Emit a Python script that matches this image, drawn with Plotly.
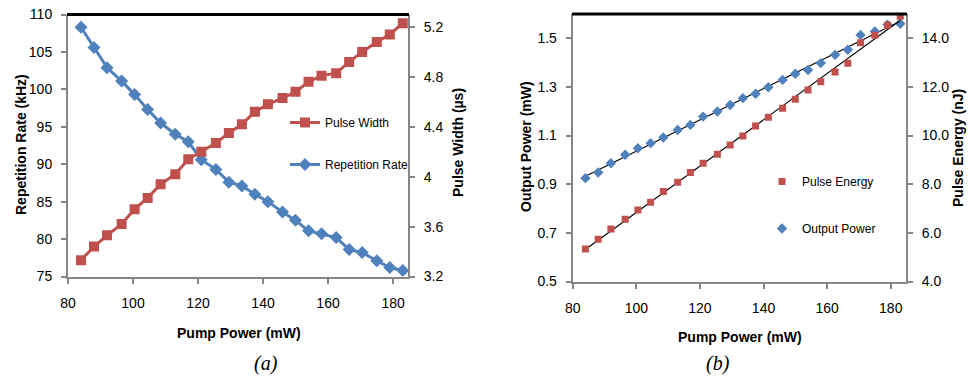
import numpy as np
import plotly.graph_objects as go

# ---------------- data ----------------
pump_power = [84, 88, 92, 96.5, 100.5, 104.5, 108.5, 113, 117, 121, 125.5, 129.5,
              133.5, 137.5, 141.5, 146, 150, 154, 158, 162.5, 166.5, 170.5, 175, 179, 183]
rep_rate = [108.3, 105.6, 102.9, 101.1, 99.3, 97.3, 95.5, 94.0, 93.0, 90.6, 89.3, 87.6,
            87.1, 86.0, 85.0, 83.6, 82.5, 81.1, 80.7, 80.2, 78.6, 78.2, 77.1, 76.2, 75.8]
pulse_width = [3.33, 3.44, 3.53, 3.62, 3.74, 3.83, 3.94, 4.02, 4.14, 4.20, 4.27, 4.35,
               4.42, 4.52, 4.58, 4.63, 4.68, 4.76, 4.81, 4.83, 4.92, 5.00, 5.08, 5.14, 5.23]
output_power = [0.925, 0.948, 0.986, 1.021, 1.048, 1.069, 1.092, 1.123, 1.144, 1.178, 1.199,
                1.226, 1.254, 1.272, 1.299, 1.329, 1.354, 1.370, 1.398, 1.432, 1.453, 1.514,
                1.528, 1.556, 1.560]
pulse_energy = [5.34, 5.74, 6.16, 6.56, 6.94, 7.26, 7.70, 8.08, 8.48, 8.86, 9.23, 9.61,
                9.98, 10.39, 10.75, 11.12, 11.49, 11.87, 12.21, 12.62, 12.97, 13.82,
                14.13, 14.54, 14.91]

x_ticks = [80, 100, 120, 140, 160, 180]
rep_ticks = [75, 80, 85, 90, 95, 100, 105, 110]
pw_ticks = [3.2, 3.6, 4.0, 4.4, 4.8, 5.2]
pw_ticktext = ["3.2", "3.6", "4", "4.4", "4.8", "5.2"]
op_ticks = [0.5, 0.7, 0.9, 1.1, 1.3, 1.5]
pe_ticks = [4.0, 6.0, 8.0, 10.0, 12.0, 14.0]

# ---------------- style ----------------
W, H = 968, 378
RED = "#C0504D"
BLUE = "#4F81BD"
AXC = "#868686"
TICKFONT = dict(family="Liberation Sans Narrow, Liberation Sans, Arial, sans-serif", size=14, color="#000000")
TITLEFONT = dict(family="Liberation Sans, Arial, sans-serif", size=14, color="#000000")


def px(x):
    return x / W


def py(y):
    return 1 - y / H


# linear trend lines for panel (b)
pp = np.array(pump_power)
op_fit = np.polyfit(pp, np.array(output_power), 1)
pe_fit = np.polyfit(pp, np.array(pulse_energy), 1)
trend_x = [pump_power[0], pump_power[-1]]

fig = go.Figure()

# panel (a)
fig.add_trace(go.Scatter(x=pump_power, y=pulse_width, name="Pulse Width", mode="lines+markers",
                         line=dict(color=RED, width=3), marker=dict(symbol="square", size=10, color=RED),
                         xaxis="x", yaxis="y2", legend="legend", legendgroup="a1"))
fig.add_trace(go.Scatter(x=pump_power, y=rep_rate, name="Repetition Rate", mode="lines+markers",
                         line=dict(color=BLUE, width=3), marker=dict(symbol="diamond", size=10, color=BLUE),
                         xaxis="x", yaxis="y", legend="legend", legendgroup="a2"))

# panel (b)
fig.add_trace(go.Scatter(x=trend_x, y=list(np.polyval(pe_fit, trend_x)), mode="lines",
                         line=dict(color="#000000", width=1.2), showlegend=False,
                         xaxis="x2", yaxis="y4", hoverinfo="skip"))
fig.add_trace(go.Scatter(x=trend_x, y=list(np.polyval(op_fit, trend_x)), mode="lines",
                         line=dict(color="#000000", width=1.2), showlegend=False,
                         xaxis="x2", yaxis="y3", hoverinfo="skip"))
fig.add_trace(go.Scatter(x=pump_power, y=pulse_energy, name="Pulse Energy", mode="markers",
                         marker=dict(symbol="square", size=7, color=RED),
                         xaxis="x2", yaxis="y4", legend="legend2", legendgroup="b1"))
fig.add_trace(go.Scatter(x=pump_power, y=output_power, name="Output Power", mode="markers",
                         marker=dict(symbol="diamond", size=8, color=BLUE),
                         xaxis="x2", yaxis="y3", legend="legend2", legendgroup="b2"))

axis_common = dict(showgrid=False, zeroline=False, showline=True, linecolor=AXC, linewidth=2,
                   ticks="outside", ticklen=5, tickcolor=AXC, tickwidth=1.5, tickfont=TICKFONT,
                   automargin=False)

fig.update_layout(
    width=W, height=H,
    margin=dict(l=0, r=0, t=0, b=0, autoexpand=False),
    paper_bgcolor="white", plot_bgcolor="white",
    showlegend=True,
    xaxis=dict(domain=[px(68), px(408)], range=[80, 184.6], tickvals=x_ticks, anchor="y",
               ticklabelstandoff=8, **axis_common),
    yaxis=dict(domain=[py(276.5), py(14.5)], range=[75, 110], tickvals=rep_ticks, anchor="x",
               side="left", ticklabelstandoff=6, **axis_common),
    yaxis2=dict(range=[3.2, 5.3], tickvals=pw_ticks, ticktext=pw_ticktext, overlaying="y",
                anchor="x", side="right", ticklabelstandoff=6, **axis_common),
    xaxis2=dict(domain=[px(572.7), px(906)], range=[80, 184.8], tickvals=x_ticks, anchor="y3",
                ticklabelstandoff=8, **axis_common),
    yaxis3=dict(domain=[py(281.5), py(14)], range=[0.5, 1.6], tickvals=op_ticks, tickformat=".1f",
                anchor="x2", side="left", ticklabelstandoff=6, **axis_common),
    yaxis4=dict(range=[4, 15], tickvals=pe_ticks, tickformat=".1f", overlaying="y3",
                anchor="x2", side="right", ticklabelstandoff=6, **axis_common),
    legend=dict(x=px(285), y=py(108), xanchor="left", yanchor="top", bgcolor="rgba(0,0,0,0)",
                font=dict(family=TICKFONT["family"], size=12, color="#000000"),
                tracegroupgap=23, itemwidth=30),
    legend2=dict(x=px(762), y=py(167), xanchor="left", yanchor="top", bgcolor="rgba(0,0,0,0)",
                 font=dict(family=TICKFONT["family"], size=12, color="#000000"),
                 tracegroupgap=28, itemwidth=30),
    shapes=[
        dict(type="line", xref="paper", yref="paper", x0=px(67), x1=px(409), y0=py(14.5), y1=py(14.5),
             line=dict(color="#000000", width=3)),
        dict(type="line", xref="paper", yref="paper", x0=px(572), x1=px(907), y0=py(14), y1=py(14),
             line=dict(color="#000000", width=3)),
    ],
    annotations=[
        dict(text="<b>Repetition Rate (kHz)</b>", x=px(21), y=py(145), xref="paper", yref="paper",
             textangle=-90, showarrow=False, font=TITLEFONT, xanchor="center", yanchor="middle"),
        dict(text="<b>Pulse Width (µs)</b>", x=px(458), y=py(143), xref="paper", yref="paper",
             textangle=-90, showarrow=False, font=TITLEFONT, xanchor="center", yanchor="middle"),
        dict(text="<b>Pump Power (mW)</b>", x=px(239), y=py(333), xref="paper", yref="paper",
             showarrow=False, font=TITLEFONT, xanchor="center", yanchor="middle"),
        dict(text="<b>Output Power (mW)</b>", x=px(526), y=py(147), xref="paper", yref="paper",
             textangle=-90, showarrow=False, font=TITLEFONT, xanchor="center", yanchor="middle"),
        dict(text="<b>Pulse Energy (nJ)</b>", x=px(958), y=py(148), xref="paper", yref="paper",
             textangle=-90, showarrow=False, font=TITLEFONT, xanchor="center", yanchor="middle"),
        dict(text="<b>Pump Power (mW)</b>", x=px(739.5), y=py(336.5), xref="paper", yref="paper",
             showarrow=False, font=TITLEFONT, xanchor="center", yanchor="middle"),
        dict(text="<i>(a)</i>", x=px(266), y=py(363), xref="paper", yref="paper", showarrow=False,
             font=dict(family="Liberation Serif, Times New Roman, serif", size=20, color="#000000"),
             xanchor="center", yanchor="middle"),
        dict(text="<i>(b)</i>", x=px(718), y=py(363), xref="paper", yref="paper", showarrow=False,
             font=dict(family="Liberation Serif, Times New Roman, serif", size=20, color="#000000"),
             xanchor="center", yanchor="middle"),
    ],
)

fig.write_html("out.html", config={"displayModeBar": False},
               post_script="document.body.style.margin='0';")
